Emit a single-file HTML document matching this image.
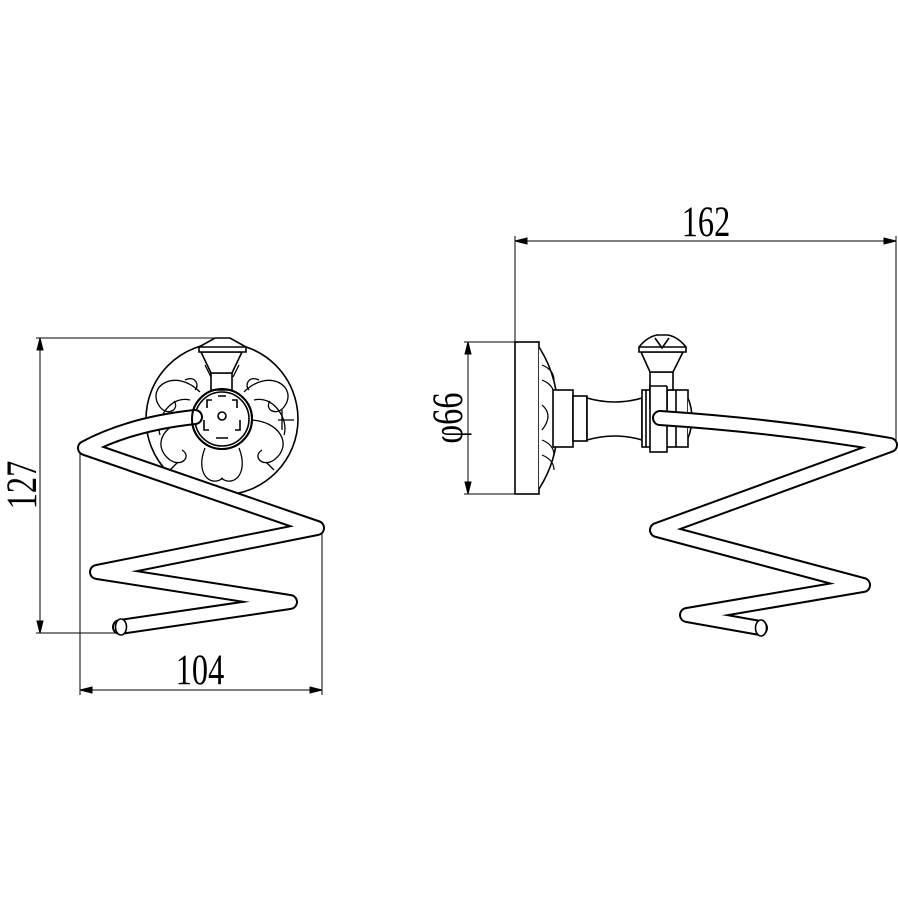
<!DOCTYPE html>
<html><head><meta charset="utf-8"><style>html,body{margin:0;padding:0;background:#fff}svg{display:block}</style></head>
<body>
<svg width="898" height="898" viewBox="0 0 898 898" xmlns="http://www.w3.org/2000/svg" font-family="Liberation Serif, serif">
<g stroke="#000" fill="none" stroke-width="1">
<line x1="36" y1="338" x2="230" y2="338"/>
<line x1="36" y1="633" x2="122" y2="633"/>
<line x1="40" y1="338" x2="40" y2="633"/>
<path d="M40 338 l-3 12 h6z M40 633 l-3 -12 h6z" fill="#000"/>
<line x1="80" y1="450" x2="80" y2="695"/>
<line x1="322" y1="530" x2="322" y2="695"/>
<line x1="80" y1="690" x2="322" y2="690"/>
<path d="M80 690 l12 -3 v6z M322 690 l-12 -3 v6z" fill="#000"/>
<line x1="515" y1="236" x2="515" y2="342"/>
<line x1="896" y1="236" x2="896" y2="442"/>
<line x1="515" y1="241" x2="896" y2="241"/>
<path d="M515 241 l12 -3 v6z M896 241 l-12 -3 v6z" fill="#000"/>
<line x1="464" y1="342" x2="515" y2="342"/>
<line x1="464" y1="494" x2="515" y2="494"/>
<line x1="468" y1="342" x2="468" y2="494"/>
<path d="M468 342 l-3 12 h6z M468 494 l-3 -12 h6z" fill="#000"/>
</g>
<text transform="translate(200 684) scale(0.85 1.15)" font-size="38" text-anchor="middle">104</text>
<text transform="translate(706 236) scale(0.85 1.15)" font-size="38" text-anchor="middle">162</text>
<text transform="translate(36 485) rotate(-90) scale(0.85 1.15)" font-size="38" text-anchor="middle">127</text>
<text transform="translate(462 418) rotate(-90) scale(0.85 1.15)" font-size="38" text-anchor="middle">φ66</text>

<g stroke="#000" fill="none" stroke-width="1.6">
<circle cx="222" cy="419" r="76" fill="#fff"/>
<g stroke-width="1.3">
<path d="M200 392 c-25 -25 -55 -5 -40 15 c8 10 20 2 14 -6"/>
<path d="M244 392 c25 -25 55 -5 40 15 c-8 10 -20 2 -14 -6"/>
<path d="M195 420 c-30 0 -45 25 -25 40 c12 8 22 -4 12 -10"/>
<path d="M249 420 c30 0 45 25 25 40 c-12 8 -22 -4 -12 -10"/>
<path d="M205 448 c-10 25 5 40 18 30 M239 448 c10 25 -5 40 -18 30"/>
<path d="M190 400 c-20 -5 -35 20 -30 35 M254 400 c20 -5 35 20 30 35"/>
<path d="M205 365 l6 12 M239 365 l-6 12 M170 470 l8 -8 M274 470 l-8 -8 M282 410 v20 M278 420 h16"/>
<path d="M185 380 c10 -5 15 5 10 10 M259 380 c-10 -5 -15 5 -10 10"/>
</g>
<circle cx="222" cy="419" r="30" fill="#fff" stroke-width="2"/>
<circle cx="222" cy="419" r="27"/>
<circle cx="222" cy="416" r="4"/>
<path d="M212 400 h-5 v8 M232 400 h5 v8 M204 420 v10 h5 M240 420 v10 h-5 M216 438 h12 M218 396 h8" stroke-width="1.6"/>
<path d="M211 373 h21 v17 h-21z" fill="#fff"/>
<path d="M201 352 l10 21 h21 l10 -21z" fill="#fff"/>
<path d="M199 352 h47 v-5 l-16 -9 h-15 l-16 9z" fill="#fff"/>
<path d="M199 347 h47"/>
</g>
<g fill="none" stroke-linejoin="round" stroke-linecap="round">
<path d="M195 417 Q130 424 85 448 L317 528 L97 572 L290 602 L120 627" stroke="#000" stroke-width="16"/>
<path d="M195 417 Q130 424 85 448 L317 528 L97 572 L290 602 L120 627" stroke="#fff" stroke-width="12"/>
</g>
<ellipse cx="121" cy="627" rx="5.5" ry="8" fill="#fff" stroke="#000" stroke-width="1.6"/>
<circle cx="222" cy="419" r="30" fill="none" stroke="#000" stroke-width="2"/>

<g stroke="#000" fill="#fff" stroke-width="1.6">
<rect x="515" y="342" width="24" height="152"/>
<path d="M539 347 Q560 380 557 418 Q560 456 539 489"/>
<path d="M542 365 q12 5 12 15 M542 380 q12 5 12 15 M542 440 q12 5 12 15 M542 455 q12 5 12 15 M542 405 q12 10 0 25" fill="none" stroke-width="1.2"/>
<rect x="553" y="390" width="20" height="57"/>
<rect x="573" y="396" width="14" height="45"/>
<path d="M587 398 Q615 406 642 398 V440 Q615 432 587 440z"/>
<rect x="642" y="390" width="46" height="57"/>
<rect x="650" y="386" width="17" height="66"/>
<line x1="646" y1="390" x2="646" y2="447"/>
<line x1="676" y1="390" x2="676" y2="447"/>
<path d="M688 398 q8 20 0 40"/>
<rect x="650" y="372" width="23" height="18"/>
<path d="M641 352 l9 20 h23 l10 -20z"/>
<path d="M639 352 h47 v-5 q-8 -10 -18 -12 h-11 q-10 2 -18 12z"/>
<path d="M639 347 h47 M655 338 l7 10 l7 -10" fill="none"/>
</g>
<g fill="none" stroke-linejoin="round" stroke-linecap="round">
<path d="M660 418 Q780 426 890 445 L657 530 L863 585 L687 615 L760 628" stroke="#000" stroke-width="16"/>
<path d="M660 418 Q780 426 890 445 L657 530 L863 585 L687 615 L760 628" stroke="#fff" stroke-width="12"/>
</g>
<ellipse cx="761" cy="628" rx="5.5" ry="8" fill="#fff" stroke="#000" stroke-width="1.6"/>
<rect x="650" y="386" width="17" height="23" fill="#fff" stroke="none"/>
<path d="M650 386 V409 M667 386 V409 M650 386 H667" stroke="#000" stroke-width="1.6" fill="none"/>
</svg>
</body></html>
